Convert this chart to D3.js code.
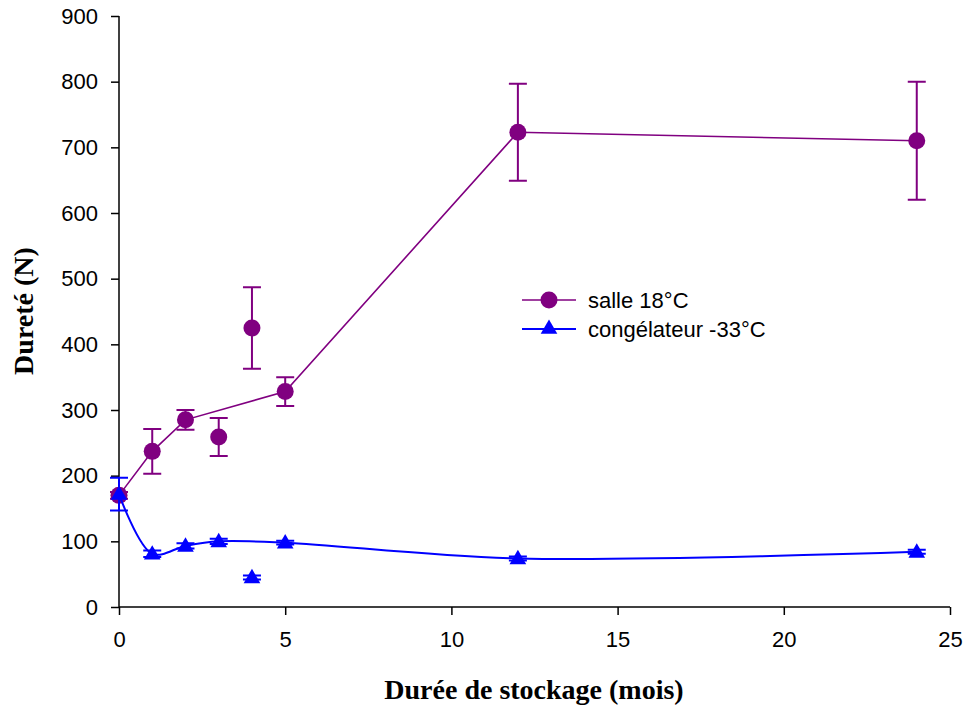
<!DOCTYPE html>
<html><head><meta charset="utf-8">
<script src="https://cdn.jsdelivr.net/npm/d3@7"></script>
<style>body{margin:0;background:#fff}svg{display:block}</style>
</head><body><svg id="c" width="969" height="710"></svg>
<script>
const months = [0, 1, 2, 3, 4, 5, 12, 24];
const salle = [170, 237, 285, 259, 425, 328, 723, 710];
const salleErr = [5, 34, 15, 29, 62, 22, 74, 90];
const salleLineMonths = [0, 1, 2, 5, 12, 24];
const conge = [172, 81, 93, 100, 45, 98, 74, 84];
const congeErr = [25, 5, 4, 4, 3, 3, 3, 3];
const congeLineMonths = [0, 1, 2, 3, 5, 12, 24];
const xTicks = [0, 5, 10, 15, 20, 25];
const yTicks = [0, 100, 200, 300, 400, 500, 600, 700, 800, 900];
const seriesNames = ["salle 18°C", "congélateur -33°C"];
const colors = ["#800080", "#0000FF"];

const svg = d3.select("#c");
const x = d3.scaleLinear().domain([0, 25]).range([119, 950]);
const y = d3.scaleLinear().domain([0, 900]).range([607, 16]);

const font = "'Liberation Sans', Arial, Helvetica, sans-serif";
const serif = "'Liberation Serif', 'Times New Roman', serif";

// axes
const xa = svg.append("g").attr("transform", `translate(0,${y(0)})`)
  .call(d3.axisBottom(x).tickValues(xTicks).tickSize(8).tickPadding(16).tickFormat(d3.format("d")));
const ya = svg.append("g").attr("transform", `translate(${x(0)},0)`)
  .call(d3.axisLeft(y).tickValues(yTicks).tickSize(8).tickPadding(13).tickFormat(d3.format("d")));
[xa, ya].forEach(a => {
  a.select(".domain").attr("stroke", "#000").attr("stroke-width", 1.5);
  a.selectAll(".tick line").attr("stroke", "#000").attr("stroke-width", 1.5);
  a.selectAll(".tick text").attr("font-family", font).attr("font-size", 22).attr("fill", "#000");
});
xa.select(".domain").attr("d", `M${x(0)},0H${x(25)}`);
ya.select(".domain").attr("d", `M0,${y(0)}V${y(900)}`);

// axis titles
svg.append("text").attr("x", 534).attr("y", 699).attr("text-anchor", "middle")
  .attr("font-family", serif).attr("font-weight", "bold").attr("font-size", 28)
  .text("Durée de stockage (mois)");
svg.append("text").attr("transform", "translate(33,311) rotate(-90)").attr("text-anchor", "middle")
  .attr("font-family", serif).attr("font-weight", "bold").attr("font-size", 28)
  .text("Dureté (N)");

function drawSeries(vals, errs, lineMonths, color, curve, lw, markerFn) {
  const g = svg.append("g");
  const pts = months.map((m, i) => ({m, v: vals[i], e: errs[i]}));
  const linePts = pts.filter(p => lineMonths.includes(p.m));
  g.append("path").datum(linePts)
    .attr("d", d3.line().x(p => x(p.m)).y(p => y(p.v)).curve(curve))
    .attr("fill", "none").attr("stroke", color).attr("stroke-width", lw);
  pts.forEach(p => {
    const cx = x(p.m), hw = 9;
    const path = `M${cx},${y(p.v + p.e)}V${y(p.v - p.e)}M${cx - hw},${y(p.v + p.e)}H${cx + hw}M${cx - hw},${y(p.v - p.e)}H${cx + hw}`;
    g.append("path").attr("d", path).attr("stroke", color).attr("stroke-width", 2).attr("fill", "none");
  });
  pts.forEach(p => markerFn(g, x(p.m), y(p.v)));
}

const circle = (g, cx, cy, r = 8.5) => g.append("circle").attr("cx", cx).attr("cy", cy).attr("r", r).attr("fill", colors[0]);
const tri = (g, cx, cy) => g.append("path").attr("d", d3.symbol().type(d3.symbolTriangle).size(120)()).attr("transform", `translate(${cx},${cy + 1})`).attr("fill", colors[1]);

drawSeries(salle, salleErr, salleLineMonths, colors[0], d3.curveLinear, 1.6, circle);
drawSeries(conge, congeErr, congeLineMonths, colors[1], d3.curveCatmullRom.alpha(0.5), 2, tri);

// legend
const lg = svg.append("g");
[0, 1].forEach(i => {
  const ly = 300 + i * 29;
  lg.append("line").attr("x1", 522).attr("x2", 576).attr("y1", ly).attr("y2", ly)
    .attr("stroke", colors[i]).attr("stroke-width", i ? 2 : 1.6);
  if (i === 0) circle(lg, 549, ly, 8.5); else tri(lg, 549, ly - 1);
  lg.append("text").attr("x", 588).attr("y", ly + 8).attr("font-family", font).attr("font-size", 22)
    .text(seriesNames[i]);
});
</script></body></html>
